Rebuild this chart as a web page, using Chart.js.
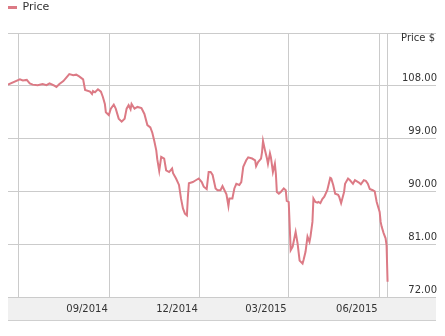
<!DOCTYPE html>
<html>
<head>
<meta charset="utf-8">
<script src="https://cdn.jsdelivr.net/npm/chart.js@4/dist/chart.umd.min.js"></script>
<style>
  html, body { margin: 0; padding: 0; background: #fff; }
  #wrap { width: 445px; height: 336px; }
</style>
</head>
<body>
<div id="wrap"><canvas id="priceChart"></canvas></div>
<script>
const dates = [
    '2014-05-21', '2014-06-02', '2014-06-05', '2014-06-09', '2014-06-12', '2014-06-15', '2014-06-20', '2014-06-25',
    '2014-06-29', '2014-07-02', '2014-07-06', '2014-07-09', '2014-07-12', '2014-07-16', '2014-07-19', '2014-07-22',
    '2014-07-26', '2014-07-29', '2014-08-01', '2014-08-05', '2014-08-07', '2014-08-12', '2014-08-14', '2014-08-15',
    '2014-08-17', '2014-08-20', '2014-08-23', '2014-08-25', '2014-08-27', '2014-08-28', '2014-08-31', '2014-09-02',
    '2014-09-05', '2014-09-07', '2014-09-10', '2014-09-13', '2014-09-16', '2014-09-18', '2014-09-20', '2014-09-22',
    '2014-09-23', '2014-09-26', '2014-09-29', '2014-10-03', '2014-10-06', '2014-10-09', '2014-10-12', '2014-10-14',
    '2014-10-16', '2014-10-18', '2014-10-19', '2014-10-21', '2014-10-23', '2014-10-26', '2014-10-28', '2014-10-31',
    '2014-11-03', '2014-11-04', '2014-11-07', '2014-11-10', '2014-11-12', '2014-11-14', '2014-11-16', '2014-11-18',
    '2014-11-19', '2014-11-20', '2014-11-24', '2014-11-27', '2014-11-30', '2014-12-03', '2014-12-05', '2014-12-08',
    '2014-12-10', '2014-12-12', '2014-12-14', '2014-12-17', '2014-12-19', '2014-12-22', '2014-12-24', '2014-12-26',
    '2014-12-28', '2014-12-30', '2014-12-31', '2015-01-03', '2015-01-05', '2015-01-07', '2015-01-10', '2015-01-12',
    '2015-01-14', '2015-01-17', '2015-01-19', '2015-01-23', '2015-01-26', '2015-01-27', '2015-01-29', '2015-02-01',
    '2015-02-02', '2015-02-03', '2015-02-05', '2015-02-07', '2015-02-08', '2015-02-10', '2015-02-11', '2015-02-13',
    '2015-02-15', '2015-02-16', '2015-02-17', '2015-02-19', '2015-02-21', '2015-02-24', '2015-02-26', '2015-02-27',
    '2015-03-01', '2015-03-03', '2015-03-05', '2015-03-08', '2015-03-10', '2015-03-12', '2015-03-15', '2015-03-16',
    '2015-03-18', '2015-03-20', '2015-03-22', '2015-03-23', '2015-03-25', '2015-03-26', '2015-03-28', '2015-03-30',
    '2015-03-31', '2015-04-02', '2015-04-04', '2015-04-06', '2015-04-09', '2015-04-12', '2015-04-13', '2015-04-15',
    '2015-04-17', '2015-04-20', '2015-04-21', '2015-04-23', '2015-04-26', '2015-04-27', '2015-04-30', '2015-05-02',
    '2015-05-05', '2015-05-07', '2015-05-11', '2015-05-13', '2015-05-16', '2015-05-18', '2015-05-20', '2015-05-22',
    '2015-05-25', '2015-05-27', '2015-05-29', '2015-06-01', '2015-06-02', '2015-06-03', '2015-06-05', '2015-06-07',
    '2015-06-08', '2015-06-09'
];
const prices = [
    108.2, 109.1, 108.9, 109.0, 108.4, 108.2, 108.1, 108.3,
    108.1, 108.4, 108.1, 107.8, 108.3, 108.8, 109.4, 110.0,
    109.8, 109.9, 109.6, 109.1, 107.3, 107.0, 106.6, 107.1,
    106.9, 107.4, 107.0, 106.1, 104.9, 103.5, 103.0, 104.1,
    104.8, 104.1, 102.4, 101.9, 102.4, 104.1, 104.7, 104.0,
    104.9, 104.1, 104.4, 104.2, 103.2, 101.3, 100.9, 100.0,
    98.6, 97.0, 95.5, 93.5, 95.9, 95.6, 93.6, 93.3,
    93.9, 93.1, 92.2, 91.1, 88.8, 87.1, 86.2, 85.9,
    89.1, 91.4, 91.6, 91.9, 92.2, 91.6, 90.8, 90.4,
    93.3, 93.3, 92.8, 90.5, 90.2, 90.2, 90.9, 90.2,
    89.5, 87.5, 88.8, 88.8, 90.5, 91.3, 91.1, 91.6,
    94.2, 95.3, 95.8, 95.6, 95.3, 94.3, 95.0, 95.6,
    96.7, 98.6, 97.0, 95.6, 94.7, 96.5, 95.8, 93.3,
    94.7, 93.0, 89.9, 89.6, 89.9, 90.5, 90.2, 88.4,
    88.2, 80.0, 80.6, 83.1, 81.1, 78.2, 77.7, 78.3,
    79.7, 82.3, 81.4, 82.3, 84.8, 88.8, 88.2, 88.1,
    88.2, 88.0, 88.7, 89.1, 90.2, 92.3, 92.2, 91.1,
    89.6, 89.4, 89.1, 88.0, 89.9, 91.3, 92.2, 91.9,
    91.3, 91.9, 91.5, 91.2, 91.9, 91.8, 91.3, 90.4,
    90.2, 90.0, 88.2, 86.5, 84.8, 84.0, 82.9, 82.0,
    80.8, 74.6
];

const seriesLabel = 'Price';
const xTickDates = ['2014-06-01', '2014-09-01', '2014-12-01', '2015-03-01', '2015-06-01', '2015-06-09'];
const xTickLabels = ['', '09/2014', '12/2014', '03/2015', '06/2015', ''];
const xRange = ['2014-05-21', '2015-07-28'];
const yTickValues = [72, 81, 90, 99, 108, 117];
const yAxisTitle = 'Price $';

const BASE = Date.UTC(2014, 5, 1);
function dayOf(str) {
    const [y, m, d] = str.split('-').map(Number);
    return (Date.UTC(y, m - 1, d) - BASE) / 86400000;
}

Chart.defaults.font.family = '"DejaVu Sans", Verdana, sans-serif';
Chart.defaults.color = '#333';

const LINE_COLOR = '#dc7a85';
const GRID_COLOR = '#cbcbcb';

// push the plot area down below the legend
const legendGap = {
    id: 'legendGap',
    beforeInit(chart) {
        const fit = chart.legend.fit;
        chart.legend.fit = function () {
            fit.bind(chart.legend)();
            this.height += 10;
        };
    }
};

// grey band behind the date labels + axis title on top right
const axisDecor = {
    id: 'axisDecor',
    beforeDraw(chart) {
        const { ctx, chartArea, scales } = chart;
        const bottom = scales.x.bottom;
        ctx.save();
        ctx.fillStyle = '#f0f0f0';
        ctx.fillRect(chartArea.left, chartArea.bottom, chartArea.right - chartArea.left, bottom - chartArea.bottom);
        ctx.strokeStyle = '#cfcfcf';
        ctx.lineWidth = 1;
        ctx.beginPath();
        ctx.moveTo(chartArea.left, Math.round(bottom) + 0.5);
        ctx.lineTo(chartArea.right, Math.round(bottom) + 0.5);
        ctx.stroke();
        ctx.restore();
    },
    afterDraw(chart) {
        const { ctx, chartArea } = chart;
        ctx.save();
        ctx.font = '10px "DejaVu Sans", Verdana, sans-serif';
        ctx.fillStyle = '#333';
        ctx.textAlign = 'right';
        ctx.textBaseline = 'middle';
        ctx.fillText(yAxisTitle, chartArea.right - 1, chartArea.top + 5);
        ctx.restore();
    }
};

const points = dates.map((d, i) => ({ x: dayOf(d), y: prices[i] }));

new Chart(document.getElementById('priceChart'), {
    type: 'line',
    data: {
        datasets: [{
            label: seriesLabel,
            data: points,
            borderColor: LINE_COLOR,
            backgroundColor: LINE_COLOR,
            borderWidth: 2,
            pointRadius: 0,
            tension: 0,
            fill: false
        }]
    },
    options: {
        responsive: true,
        maintainAspectRatio: false,
        animation: false,
        layout: { padding: { left: 8, right: 7, top: 2, bottom: 16 } },
        plugins: {
            legend: {
                position: 'top',
                align: 'start',
                labels: {
                    boxWidth: 9,
                    boxHeight: 3,
                    padding: 0,
                    font: { size: 11 },
                    color: '#333',
                    generateLabels: (chart) => Chart.defaults.plugins.legend.labels.generateLabels(chart)
                        .map(item => ({ ...item, lineWidth: 0 }))
                }
            },
            tooltip: { enabled: false }
        },
        scales: {
            x: {
                type: 'linear',
                min: dayOf(xRange[0]),
                max: dayOf(xRange[1]),
                afterBuildTicks: (scale) => {
                    scale.ticks = xTickDates.map(d => ({ value: dayOf(d) }));
                },
                afterFit: (scale) => { scale.height = 23; },
                ticks: {
                    autoSkip: false,
                    maxRotation: 0,
                    align: 'end',
                    labelOffset: -2,
                    padding: 6,
                    font: { size: 10 },
                    callback: (value, index) => xTickLabels[index]
                },
                grid: { color: GRID_COLOR, drawTicks: false },
                border: { display: false }
            },
            y: {
                position: 'right',
                min: yTickValues[0],
                max: yTickValues[yTickValues.length - 1],
                afterBuildTicks: (scale) => {
                    scale.ticks = yTickValues.map(v => ({ value: v }));
                },
                ticks: {
                    mirror: true,
                    padding: 1,
                    labelOffset: -7,
                    font: { size: 10 },
                    callback: (value) => value === yTickValues[yTickValues.length - 1] ? '' : value.toFixed(2)
                },
                grid: { color: GRID_COLOR, drawTicks: false },
                border: { display: false }
            }
        }
    },
    plugins: [legendGap, axisDecor]
});
</script>
</body>
</html>
